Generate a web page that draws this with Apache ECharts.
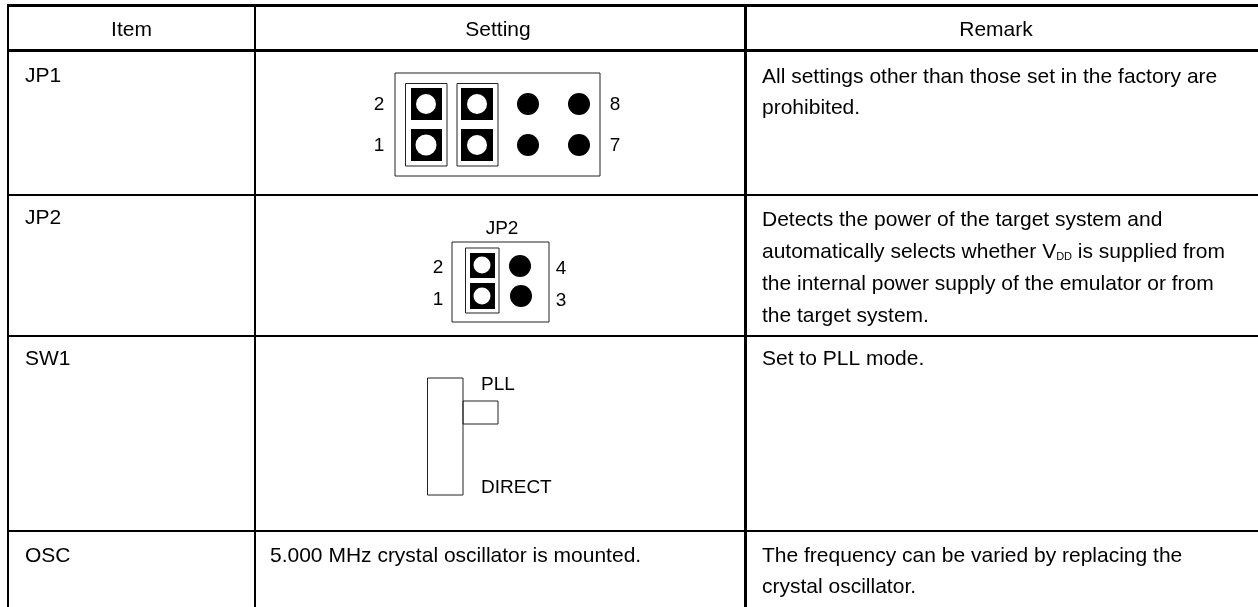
<!DOCTYPE html>
<html><head><meta charset="utf-8">
<style>html,body{margin:0;padding:0;background:#fff}#c{width:1258px;height:607px}</style>
<script src="https://cdn.jsdelivr.net/npm/echarts@6/dist/echarts.min.js"></script>
</head><body><div id="c"></div>
<script>
// Table rules: [x0,y0,x1,y1,width]
const tableRules = [
  [7,5.5,1258,5.5,3],[7,50.5,1258,50.5,3],
  [7,195,1258,195,2],[7,336,1258,336,2],[7,531,1258,531,2],
  [8,4,8,607,2],[255,4,255,607,2],[745.5,4,745.5,607,3]
];
// Outlined rectangles: [x0,y0,x1,y1]
const outlineRects = [
  [395,73,600,176],[405.5,83.5,447,166],[457,83.5,498,166],
  [452,242,549,322],[465.5,248,499,313],
  [427.5,378,463,495],[463,401,498,424]
];
// Filled jumper pads: [x0,y0,x1,y1]
const padRects = [
  [411,88,442,120],[411,129,442,161],[461,88,493,120],[461,129,493,161],
  [470,253,495,278],[470,283,495,309]
];
// Pin holes [cx,cy,r]
const whiteHoles = [[426,104,10],[426,145,10.5],[477,104,10],[477,145,10],[482,265,8.5],[482,296,8.5]];
const blackPins = [[528,104,11],[579,104,11],[528,145,11],[579,145,11],[520,266,11],[521,296,11]];
// Cell texts [x,y,align,text]
const headerTexts = [[131.5,30,'center','Item'],[498,30,'center','Setting'],[996,30,'center','Remark']];
const itemTexts = [[25,76,'left','JP1'],[25,218,'left','JP2'],[25,359,'left','SW1'],[25,556,'left','OSC']];
const settingTexts = [[270,556,'left','5.000 MHz crystal oscillator is mounted.']];
const remarkTexts = [
  [762,77,'left','All settings other than those set in the factory are'],
  [762,108,'left','prohibited.'],
  [762,220,'left','Detects the power of the target system and'],
  [762,252,'left','automatically selects whether V{s|DD} is supplied from'],
  [762,284,'left','the internal power supply of the emulator or from'],
  [762,316,'left','the target system.'],
  [762,359,'left','Set to PLL mode.'],
  [762,556,'left','The frequency can be varied by replacing the'],
  [762,587,'left','crystal oscillator.']
];
const diagramLabels = [
  [379,105,'center','2'],[379,146,'center','1'],[615,105,'center','8'],[615,146,'center','7'],
  [502,229,'center','JP2'],[438,268,'center','2'],[438,300,'center','1'],[561,269,'center','4'],[561,301,'center','3'],
  [481,385,'left','PLL'],[481,488,'left','DIRECT']
];
const FONT = '"Liberation Sans", Arial, sans-serif';
const FS = 21, LABEL_FS = 19;
const INK = '#000';

function custom(data, draw) {
  return {type:'custom', coordinateSystem:'cartesian2d', silent:true, clip:false, animation:false,
    data, encode:{x:0,y:1},
    renderItem:(p,api)=>draw(data[p.dataIndex],api)};
}
const rectShape=(d,api)=>{const a=api.coord([d[0],d[1]]),b=api.coord([d[2],d[3]]);return{x:a[0],y:a[1],width:b[0]-a[0],height:b[1]-a[1]}};
const textSer = (arr,fs) => custom(arr,(d,api)=>{const a=api.coord([d[0],d[1]]);return{type:'text',x:a[0],y:a[1],
  style:{text:d[3],fill:INK,fontFamily:FONT,fontSize:fs,align:d[2],verticalAlign:'middle',
    rich:{s:{fontSize:11,fontFamily:FONT,fill:INK,verticalAlign:'bottom',lineHeight:21}}}}});
const circleSer=(arr,fill)=>custom(arr,(d,api)=>{const a=api.coord([d[0],d[1]]);return{type:'circle',shape:{cx:a[0],cy:a[1],r:d[2]},style:{fill}}});

const chart = echarts.init(document.getElementById('c'),null,{renderer:'canvas'});
chart.setOption({
  animation:false, backgroundColor:'#fff',
  grid:{left:0,right:0,top:0,bottom:0},
  xAxis:{type:'value',min:0,max:1258,show:false},
  yAxis:{type:'value',min:0,max:607,inverse:true,show:false},
  tooltip:{show:false},
  series:[
    custom(tableRules,(d,api)=>{const a=api.coord([d[0],d[1]]),b=api.coord([d[2],d[3]]);
      return{type:'line',shape:{x1:a[0],y1:a[1],x2:b[0],y2:b[1]},style:{stroke:'#000',lineWidth:d[4]}}}),
    custom(outlineRects,(d,api)=>({type:'rect',shape:rectShape(d,api),style:{fill:'none',stroke:'#222',lineWidth:1}})),
    custom(padRects,(d,api)=>({type:'rect',shape:rectShape(d,api),style:{fill:'#000'}})),
    circleSer(whiteHoles,'#fff'),circleSer(blackPins,'#000'),
    textSer(headerTexts,FS),textSer(itemTexts,FS),textSer(settingTexts,FS),textSer(remarkTexts,FS),textSer(diagramLabels,LABEL_FS)
  ]
});
</script></body></html>
